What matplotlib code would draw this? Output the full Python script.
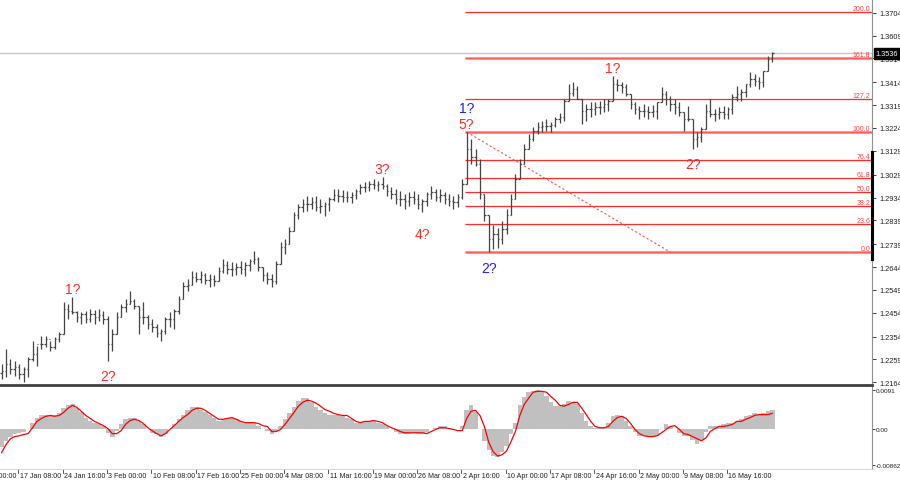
import numpy as np
import matplotlib
matplotlib.use("Agg")
import matplotlib.pyplot as plt
from matplotlib.transforms import blended_transform_factory

plt.rcParams["font.family"] = ["Liberation Sans", "DejaVu Sans"]

# 价格数据 (每根K线: 高/低/收)
highs = [
    1.2239, 1.2302, 1.2260, 1.2252, 1.2239, 1.2227, 1.2269, 1.2335, 1.2314, 1.2356,
    1.2356, 1.2335, 1.2352, 1.2373, 1.2498, 1.2490, 1.2519, 1.2460, 1.2456, 1.2460,
    1.2469, 1.2465, 1.2469, 1.2460, 1.2440, 1.2385, 1.2456, 1.2490, 1.2511, 1.2544,
    1.2511, 1.2481, 1.2498, 1.2444, 1.2427, 1.2406, 1.2385, 1.2435, 1.2456, 1.2469,
    1.2523, 1.2582, 1.2594, 1.2627, 1.2623, 1.2627, 1.2619, 1.2615, 1.2611, 1.2644,
    1.2677, 1.2669, 1.2665, 1.2661, 1.2669, 1.2665, 1.2677, 1.2711, 1.2686, 1.2644,
    1.2623, 1.2615, 1.2669, 1.2748, 1.2761, 1.2811, 1.2874, 1.2907, 1.2928, 1.2940,
    1.2936, 1.2940, 1.2928, 1.2915, 1.2936, 1.2970, 1.2970, 1.2965, 1.2961, 1.2957,
    1.2970, 1.2990, 1.2999, 1.3003, 1.3011, 1.3003, 1.3020, 1.2990, 1.2978, 1.2970,
    1.2961, 1.2949, 1.2957, 1.2961, 1.2949, 1.2928, 1.2957, 1.2982, 1.2970, 1.2970,
    1.2957, 1.2949, 1.2940, 1.2949, 1.3011, 1.3207, 1.3178, 1.3137, 1.3095, 1.2949,
    1.2861, 1.2819, 1.2807, 1.2836, 1.2886, 1.2949, 1.3032, 1.3095, 1.3158, 1.3199,
    1.3228, 1.3249, 1.3253, 1.3262, 1.3249, 1.3270, 1.3287, 1.3345, 1.3408, 1.3416,
    1.3399, 1.3345, 1.3324, 1.3333, 1.3333, 1.3337, 1.3345, 1.3345, 1.3441, 1.3429,
    1.3416, 1.3408, 1.3366, 1.3333, 1.3316, 1.3324, 1.3316, 1.3320, 1.3333, 1.3395,
    1.3379, 1.3358, 1.3345, 1.3333, 1.3291, 1.3316, 1.3262, 1.3207, 1.3228, 1.3324,
    1.3345, 1.3303, 1.3312, 1.3316, 1.3312, 1.3366, 1.3399, 1.3387, 1.3408, 1.3458,
    1.3450, 1.3437, 1.3462, 1.3524, 1.3541,
]
lows = [
    1.2177, 1.2185, 1.2198, 1.2189, 1.2177, 1.2164, 1.2185, 1.2252, 1.2231, 1.2302,
    1.2310, 1.2294, 1.2302, 1.2331, 1.2364, 1.2427, 1.2448, 1.2415, 1.2406, 1.2410,
    1.2415, 1.2406, 1.2419, 1.2406, 1.2252, 1.2294, 1.2364, 1.2435, 1.2456, 1.2490,
    1.2469, 1.2364, 1.2406, 1.2385, 1.2373, 1.2352, 1.2335, 1.2364, 1.2394, 1.2385,
    1.2448, 1.2511, 1.2544, 1.2569, 1.2582, 1.2577, 1.2573, 1.2561, 1.2565, 1.2586,
    1.2619, 1.2615, 1.2607, 1.2611, 1.2615, 1.2607, 1.2627, 1.2657, 1.2627, 1.2586,
    1.2573, 1.2561, 1.2573, 1.2657, 1.2698, 1.2740, 1.2794, 1.2844, 1.2874, 1.2878,
    1.2886, 1.2878, 1.2870, 1.2857, 1.2878, 1.2919, 1.2915, 1.2915, 1.2915, 1.2911,
    1.2928, 1.2949, 1.2957, 1.2961, 1.2970, 1.2961, 1.2970, 1.2940, 1.2928, 1.2907,
    1.2899, 1.2886, 1.2899, 1.2907, 1.2886, 1.2874, 1.2899, 1.2928, 1.2919, 1.2915,
    1.2907, 1.2899, 1.2886, 1.2895, 1.2928, 1.2990, 1.3074, 1.3066, 1.2928, 1.2836,
    1.2706, 1.2719, 1.2723, 1.2740, 1.2782, 1.2861, 1.2928, 1.3011, 1.3074, 1.3137,
    1.3170, 1.3199, 1.3207, 1.3212, 1.3207, 1.3228, 1.3245, 1.3253, 1.3337, 1.3358,
    1.3345, 1.3241, 1.3253, 1.3270, 1.3278, 1.3283, 1.3291, 1.3295, 1.3337, 1.3379,
    1.3370, 1.3358, 1.3303, 1.3283, 1.3262, 1.3270, 1.3262, 1.3270, 1.3262, 1.3333,
    1.3320, 1.3295, 1.3283, 1.3274, 1.3212, 1.3253, 1.3137, 1.3145, 1.3166, 1.3220,
    1.3270, 1.3253, 1.3262, 1.3262, 1.3262, 1.3283, 1.3337, 1.3337, 1.3354, 1.3395,
    1.3399, 1.3387, 1.3395, 1.3462, 1.3500,
]
closes = [
    1.2210, 1.2239, 1.2218, 1.2227, 1.2198, 1.2218, 1.2260, 1.2281, 1.2323, 1.2323,
    1.2344, 1.2310, 1.2344, 1.2364, 1.2469, 1.2460, 1.2456, 1.2435, 1.2448, 1.2427,
    1.2448, 1.2435, 1.2444, 1.2427, 1.2323, 1.2364, 1.2435, 1.2477, 1.2490, 1.2502,
    1.2481, 1.2435, 1.2435, 1.2406, 1.2394, 1.2369, 1.2377, 1.2427, 1.2427, 1.2460,
    1.2511, 1.2565, 1.2569, 1.2602, 1.2594, 1.2611, 1.2590, 1.2594, 1.2586, 1.2627,
    1.2652, 1.2636, 1.2636, 1.2644, 1.2636, 1.2652, 1.2669, 1.2677, 1.2644, 1.2611,
    1.2594, 1.2586, 1.2657, 1.2727, 1.2740, 1.2794, 1.2861, 1.2895, 1.2907, 1.2907,
    1.2915, 1.2895, 1.2899, 1.2907, 1.2928, 1.2945, 1.2940, 1.2936, 1.2936, 1.2945,
    1.2961, 1.2978, 1.2978, 1.2990, 1.2986, 1.2990, 1.2982, 1.2961, 1.2949, 1.2928,
    1.2928, 1.2919, 1.2936, 1.2928, 1.2907, 1.2919, 1.2949, 1.2957, 1.2936, 1.2945,
    1.2928, 1.2919, 1.2915, 1.2936, 1.2990, 1.3137, 1.3103, 1.3074, 1.2949, 1.2861,
    1.2761, 1.2782, 1.2761, 1.2803, 1.2861, 1.2928, 1.3011, 1.3074, 1.3137, 1.3178,
    1.3212, 1.3228, 1.3232, 1.3232, 1.3237, 1.3262, 1.3270, 1.3337, 1.3370, 1.3387,
    1.3345, 1.3295, 1.3303, 1.3303, 1.3312, 1.3312, 1.3324, 1.3337, 1.3408, 1.3404,
    1.3395, 1.3366, 1.3324, 1.3303, 1.3295, 1.3295, 1.3291, 1.3295, 1.3333, 1.3366,
    1.3345, 1.3324, 1.3312, 1.3291, 1.3262, 1.3262, 1.3178, 1.3187, 1.3220, 1.3295,
    1.3283, 1.3283, 1.3291, 1.3283, 1.3303, 1.3354, 1.3366, 1.3374, 1.3408, 1.3429,
    1.3420, 1.3416, 1.3462, 1.3512, 1.3536,
]
first_open = 1.2200

# MACD 指标 (柱状 / 信号线)
macd_hist = [
    -0.0043, -0.0029, -0.0019, -0.0014, -0.0010, -0.0007, -0.0002, 0.0014, 0.0024, 0.0033,
    0.0033, 0.0031, 0.0031, 0.0036, 0.0048, 0.0055, 0.0057, 0.0048, 0.0038, 0.0026,
    0.0019, 0.0014, 0.0010, 0.0005, -0.0010, -0.0019, -0.0005, 0.0010, 0.0022, 0.0026,
    0.0024, 0.0019, 0.0010, -0.0002, -0.0010, -0.0014, -0.0019, -0.0012, 0.0000, 0.0010,
    0.0022, 0.0031, 0.0043, 0.0050, 0.0050, 0.0045, 0.0038, 0.0031, 0.0024, 0.0019,
    0.0022, 0.0024, 0.0024, 0.0022, 0.0017, 0.0014, 0.0014, 0.0012, 0.0007, 0.0000,
    -0.0005, -0.0012, -0.0005, 0.0007, 0.0022, 0.0036, 0.0050, 0.0065, 0.0072, 0.0072,
    0.0062, 0.0050, 0.0043, 0.0036, 0.0033, 0.0033, 0.0031, 0.0029, 0.0026, 0.0022,
    0.0014, 0.0012, 0.0017, 0.0017, 0.0017, 0.0014, 0.0010, 0.0005, 0.0000, -0.0007,
    -0.0012, -0.0012, -0.0012, -0.0010, -0.0014, -0.0014, -0.0007, -0.0002, 0.0002, 0.0005,
    0.0005, 0.0000, 0.0000, 0.0000, 0.0007, 0.0043, 0.0055, 0.0038, 0.0000, -0.0029,
    -0.0050, -0.0065, -0.0067, -0.0055, -0.0041, -0.0014, 0.0014, 0.0055, 0.0074, 0.0086,
    0.0088, 0.0091, 0.0086, 0.0076, 0.0062, 0.0053, 0.0053, 0.0057, 0.0065, 0.0062,
    0.0057, 0.0036, 0.0019, 0.0005, 0.0002, 0.0002, 0.0002, 0.0012, 0.0029, 0.0033,
    0.0029, 0.0019, 0.0005, -0.0007, -0.0017, -0.0017, -0.0019, -0.0017, -0.0017, 0.0000,
    0.0010, 0.0007, 0.0000, -0.0010, -0.0017, -0.0017, -0.0026, -0.0036, -0.0026, -0.0007,
    0.0005, 0.0005, 0.0007, 0.0010, 0.0012, 0.0014, 0.0019, 0.0022, 0.0029, 0.0031,
    0.0036, 0.0033, 0.0036, 0.0041, 0.0045,
]
macd_signal = [
    -0.0057, -0.0038, -0.0024, -0.0019, -0.0017, -0.0014, -0.0012, 0.0002, 0.0017, 0.0024,
    0.0029, 0.0031, 0.0029, 0.0031, 0.0038, 0.0048, 0.0055, 0.0050, 0.0041, 0.0031,
    0.0024, 0.0017, 0.0012, 0.0007, 0.0000, -0.0012, -0.0012, -0.0005, 0.0010, 0.0019,
    0.0022, 0.0019, 0.0012, 0.0002, -0.0005, -0.0012, -0.0017, -0.0012, -0.0002, 0.0007,
    0.0017, 0.0026, 0.0033, 0.0043, 0.0048, 0.0048, 0.0043, 0.0036, 0.0029, 0.0022,
    0.0022, 0.0024, 0.0026, 0.0022, 0.0017, 0.0014, 0.0014, 0.0014, 0.0012, 0.0007,
    0.0005, -0.0007, -0.0007, -0.0002, 0.0010, 0.0024, 0.0038, 0.0053, 0.0062, 0.0067,
    0.0065, 0.0060, 0.0053, 0.0045, 0.0041, 0.0036, 0.0033, 0.0031, 0.0031, 0.0024,
    0.0017, 0.0014, 0.0017, 0.0017, 0.0019, 0.0017, 0.0014, 0.0007, 0.0002, -0.0002,
    -0.0007, -0.0010, -0.0010, -0.0010, -0.0010, -0.0010, -0.0012, -0.0007, -0.0002, 0.0002,
    0.0002, 0.0000, -0.0002, -0.0005, -0.0005, 0.0024, 0.0041, 0.0043, 0.0031, 0.0005,
    -0.0033, -0.0055, -0.0065, -0.0062, -0.0053, -0.0031, -0.0007, 0.0031, 0.0057, 0.0072,
    0.0086, 0.0088, 0.0088, 0.0086, 0.0076, 0.0067, 0.0055, 0.0053, 0.0057, 0.0062,
    0.0062, 0.0048, 0.0033, 0.0017, 0.0005, 0.0002, 0.0002, 0.0005, 0.0017, 0.0026,
    0.0029, 0.0024, 0.0012, -0.0002, -0.0012, -0.0017, -0.0019, -0.0019, -0.0017, -0.0010,
    -0.0002, 0.0005, 0.0007, -0.0002, -0.0012, -0.0014, -0.0019, -0.0024, -0.0029, -0.0022,
    -0.0007, 0.0000, 0.0005, 0.0005, 0.0007, 0.0010, 0.0017, 0.0017, 0.0022, 0.0026,
    0.0031, 0.0033, 0.0033, 0.0033, 0.0036,
]

# 坐标轴刻度
price_ticks = [1.3704, 1.3609, 1.3514, 1.3414, 1.3319, 1.3224, 1.3129, 1.3029, 1.2934,
               1.2839, 1.2739, 1.2644, 1.2549, 1.2454, 1.2354, 1.2259, 1.2164]
macd_ticks = [0.0091, 0.0, -0.00862]
macd_tick_labels = ["0.0091", "0.00", "-0.00862"]
time_labels = ["10 Jan 00:00", "17 Jan 08:00", "24 Jan 16:00", "3 Feb 00:00",
               "10 Feb 08:00", "17 Feb 16:00", "25 Feb 00:00", "4 Mar 08:00",
               "11 Mar 16:00", "19 Mar 00:00", "26 Mar 08:00", "2 Apr 16:00",
               "10 Apr 00:00", "17 Apr 08:00", "24 Apr 16:00", "2 May 00:00",
               "9 May 08:00", "16 May 16:00"]
bars_per_label = 10

# 斐波那契
fib_ratios = [0.0, 23.6, 38.2, 50.0, 61.8, 76.4, 100.0, 127.2, 161.8, 200.0]
fib_bold = [0.0, 100.0, 161.8]
fib_peak_bar = 105
fib_low_bar = 110
fib_end_bar = 151
scale_marker = (1.3124, 1.2677)

# 波浪标注: 文本, K线, 位置(高/低), 颜色
wave_labels = [
    ("1?", 16, "hi", "red"), ("2?", 24, "lo", "red"),
    ("3?", 86, "hi", "red"), ("4?", 95, "lo", "red"),
    ("5?", 105, "hi", "red"), ("1?", 105, "hi2", "blue"),
    ("2?", 110, "lo", "blue"), ("1?", 138, "hi", "red"),
    ("2?", 156, "lo", "red"),
]
label_offsets = {"hi": 1, "hi2": 12, "lo": -6}

RED = "#ff2a2a"
BLUE = "#2020ff"

x = np.arange(len(closes))
highs = np.array(highs)
lows = np.array(lows)
closes = np.array(closes)
opens = np.concatenate([[first_open], closes[:-1]])

fig = plt.figure(figsize=(9, 4.85), dpi=100)
ax2 = fig.add_axes([0, 1 - 470 / 485, 872 / 900, 84 / 485])
ax = fig.add_axes([0, 1 - 386 / 485, 872 / 900, 386 / 485])
ax.patch.set_visible(False)

xmin, xmax = -0.35, 196.5

# 主图
ax.set_xlim(xmin, xmax)
ax.set_ylim(1.2152, 1.3762)
ax.axhline(closes[-1], color="#c8c8c8", lw=1, zorder=0)

bar_color = "#444444"
ax.vlines(x, lows, highs, color=bar_color, lw=0.9, zorder=3)
ax.hlines(opens, x - 0.32, x, color=bar_color, lw=0.9, zorder=3)
ax.hlines(closes, x, x + 0.32, color=bar_color, lw=0.9, zorder=3)

fib_high = highs[fib_peak_bar]
fib_low = lows[fib_low_bar]
trans_r = blended_transform_factory(ax.transAxes, ax.transData)
for r in fib_ratios:
    level = fib_low + (fib_high - fib_low) * r / 100
    if r in fib_bold:
        ax.hlines(level, fib_peak_bar - 0.3, xmax, color="#ff9a9a", lw=2.2, zorder=2)
        ax.hlines(level, fib_peak_bar - 0.3, xmax, color="#ff5a5a", lw=0.8, zorder=2)
    else:
        ax.hlines(level, fib_peak_bar - 0.3, xmax, color=RED, lw=0.9, zorder=2)
    ax.text(0.998, level, f"{r:.1f}", transform=trans_r, ha="right", va="bottom",
            fontsize=5, color="#ff4040", zorder=4)

ax.plot([fib_peak_bar, fib_end_bar], [fib_high, fib_low], color="#ff5050", lw=0.8,
        linestyle=(0, (2, 2)), zorder=2)

for text, bar, pos, color in wave_labels:
    c = RED if color == "red" else BLUE
    if pos.startswith("hi"):
        ax.annotate(text, (bar, highs[bar]), xytext=(0, label_offsets[pos]),
                    textcoords="offset points", ha="center", va="bottom",
                    fontsize=10, color=c, zorder=5)
    else:
        off = label_offsets[pos] - (5 if text == "4?" else 0)
        ax.annotate(text, (bar, lows[bar]), xytext=(0, off),
                    textcoords="offset points", ha="center", va="top",
                    fontsize=10, color=c, zorder=5)

ax.yaxis.tick_right()
ax.set_yticks(price_ticks)
ax.set_yticklabels([f"{p:.4f}" for p in price_ticks])
ax.tick_params(axis="y", direction="out", length=3, width=0.6, colors="#202020",
               labelsize=5.3, pad=2)
ax.set_xticks([])
for s in ["top", "left"]:
    ax.spines[s].set_visible(False)
ax.spines["right"].set_color("#909090")
ax.spines["right"].set_linewidth(0.8)
ax.spines["bottom"].set_color("#404040")
ax.spines["bottom"].set_linewidth(2.0)

ax.plot([1.0005, 1.0005], scale_marker, transform=trans_r, color="black", lw=2.2,
        clip_on=False, zorder=6)
ax.text(1.004, closes[-1], f"{closes[-1]:.4f}", transform=trans_r, ha="left",
        va="center", fontsize=5.3, color="white", zorder=7,
        bbox=dict(boxstyle="square,pad=0.25", fc="black", ec="black"))

# MACD 副图
ax2.set_xlim(xmin, xmax)
ax2.set_ylim(-0.00956, 0.01030)
ax2.bar(x, macd_hist, width=1.0, color="#c0c0c0", linewidth=0, zorder=2)
ax2.plot(x, macd_signal, color="#ff0000", lw=0.9, zorder=3)

ax2.yaxis.tick_right()
ax2.set_yticks(macd_ticks)
ax2.set_yticklabels(macd_tick_labels)
ax2.tick_params(axis="y", direction="out", length=2, width=0.6, colors="#202020",
                labelsize=4.6, pad=1)
ax2.set_xticks([])
ax2.spines["left"].set_visible(False)
ax2.spines["top"].set_visible(False)
ax2.spines["right"].set_color("#909090")
ax2.spines["right"].set_linewidth(0.8)
ax2.spines["bottom"].set_color("#d0d0d0")
ax2.spines["bottom"].set_linewidth(0.6)

trans_t = blended_transform_factory(ax2.transData, ax2.transAxes)
tick_pos = np.arange(len(time_labels)) * bars_per_label - 6.2
for pos, lab in zip(tick_pos, time_labels):
    ax2.plot([pos, pos], [0, -0.05], transform=trans_t, color="#404040", lw=0.6,
             clip_on=False)
    ax2.text(pos + 0.3, -0.04, lab, transform=trans_t, ha="left", va="top",
             fontsize=5.1, color="#202020", clip_on=False)

fig.savefig("out.png", dpi=100)
